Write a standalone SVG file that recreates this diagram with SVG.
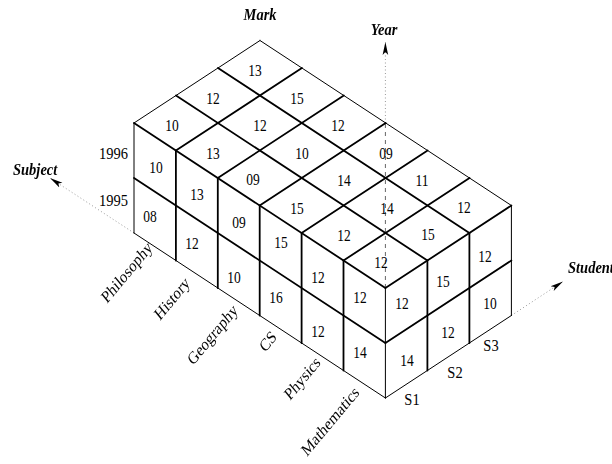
<svg xmlns="http://www.w3.org/2000/svg" width="612" height="464" viewBox="0 0 612 464">
<defs>
<style>
.thin{stroke:#000;stroke-width:1;fill:none;stroke-linecap:round}
.thick{stroke:#000;stroke-width:1.8;fill:none;stroke-linecap:round}
.txt{opacity:0.99}
.v{font-family:"Liberation Serif","Times New Roman",serif;font-size:13.5px;fill:#000;text-anchor:middle}
.lab{font-family:"Liberation Serif","Times New Roman",serif;font-size:14.5px;fill:#000}
.ax{font-family:"Liberation Serif","Times New Roman",serif;font-size:14.5px;font-weight:bold;font-style:italic;fill:#000}
.dot{stroke:#999;stroke-width:1;stroke-dasharray:1 2.5;fill:none}
.dash{stroke:#666;stroke-width:1;stroke-dasharray:4 4;fill:none}
</style>
<marker id="ah" viewBox="0 0 13 8" refX="13" refY="4" markerWidth="13" markerHeight="8" markerUnits="userSpaceOnUse" orient="auto"><path d="M0,1.2 L13,4 L0,6.8 L3,4 z" fill="#000"/></marker>
</defs>
<rect width="612" height="464" fill="#fff"/>

<g id="axes">
<line class="dot" x1="134" y1="233" x2="50" y2="178" marker-end="url(#ah)"/>
<line class="dot" x1="511.4" y1="315.5" x2="563" y2="281.5" marker-end="url(#ah)"/>
<line class="dash" x1="385.4" y1="288" x2="385.4" y2="123"/>
<line class="dot" x1="385.4" y1="123" x2="385.4" y2="42" marker-end="url(#ah)"/>
</g>

<g id="cube">
<line class="thick" x1="134" y1="123" x2="385.4" y2="288"/>
<line class="thick" x1="176" y1="95.5" x2="427.4" y2="260.5"/>
<line class="thick" x1="218" y1="68" x2="469.4" y2="233"/>
<line class="thin" x1="260" y1="40.5" x2="511.4" y2="205.5"/>
<line class="thin" x1="134" y1="123" x2="260" y2="40.5"/>
<line class="thick" x1="175.9" y1="150.5" x2="301.9" y2="68"/>
<line class="thick" x1="217.8" y1="178" x2="343.8" y2="95.5"/>
<line class="thick" x1="259.7" y1="205.5" x2="385.7" y2="123"/>
<line class="thick" x1="301.6" y1="233" x2="427.6" y2="150.5"/>
<line class="thick" x1="343.5" y1="260.5" x2="469.5" y2="178"/>
<line class="thick" x1="385.4" y1="288" x2="511.4" y2="205.5"/>
<line class="thin" x1="134" y1="123" x2="134" y2="233"/>
<line class="thick" x1="175.9" y1="150.5" x2="175.9" y2="260.5"/>
<line class="thick" x1="217.8" y1="178" x2="217.8" y2="288"/>
<line class="thick" x1="259.7" y1="205.5" x2="259.7" y2="315.5"/>
<line class="thick" x1="301.6" y1="233" x2="301.6" y2="343"/>
<line class="thick" x1="343.5" y1="260.5" x2="343.5" y2="370.5"/>
<line class="thin" x1="385.4" y1="288" x2="385.4" y2="398"/>
<line class="thick" x1="134" y1="178" x2="385.4" y2="343"/>
<line class="thin" x1="134" y1="233" x2="385.4" y2="398"/>
<line class="thick" x1="427.4" y1="260.5" x2="427.4" y2="370.5"/>
<line class="thick" x1="469.4" y1="233" x2="469.4" y2="343"/>
<line class="thin" x1="511.4" y1="205.5" x2="511.4" y2="315.5"/>
<line class="thick" x1="385.4" y1="343" x2="511.4" y2="260.5"/>
<line class="thin" x1="385.4" y1="398" x2="511.4" y2="315.5"/>
</g>

<g id="values-top" class="txt">
<text class="v" transform="matrix(1,0,0,1.2,172,130.5)">10</text>
<text class="v" transform="matrix(1,0,0,1.2,213,103.5)">12</text>
<text class="v" transform="matrix(1,0,0,1.2,255,75.5)">13</text>
<text class="v" transform="matrix(1,0,0,1.2,213,158.5)">13</text>
<text class="v" transform="matrix(1,0,0,1.2,260,130.5)">12</text>
<text class="v" transform="matrix(1,0,0,1.2,297,103.5)">15</text>
<text class="v" transform="matrix(1,0,0,1.2,253,184.5)">09</text>
<text class="v" transform="matrix(1,0,0,1.2,302,158.5)">10</text>
<text class="v" transform="matrix(1,0,0,1.2,338,130.5)">12</text>
<text class="v" transform="matrix(1,0,0,1.2,297,213.5)">15</text>
<text class="v" transform="matrix(1,0,0,1.2,344,185.5)">14</text>
<text class="v" transform="matrix(1,0,0,1.2,386,158.5)">09</text>
<text class="v" transform="matrix(1,0,0,1.2,344,240.5)">12</text>
<text class="v" transform="matrix(1,0,0,1.2,387,213.5)">14</text>
<text class="v" transform="matrix(1,0,0,1.2,422,185.5)">11</text>
<text class="v" transform="matrix(1,0,0,1.2,381,267.5)">12</text>
<text class="v" transform="matrix(1,0,0,1.2,428,239.5)">15</text>
<text class="v" transform="matrix(1,0,0,1.2,464,212.5)">12</text>
</g>

<g id="values-left" class="txt">
<text class="v" transform="matrix(1,0,0,1.2,156,172.5)">10</text>
<text class="v" transform="matrix(1,0,0,1.2,150,221.5)">08</text>
<text class="v" transform="matrix(1,0,0,1.2,197,199.5)">13</text>
<text class="v" transform="matrix(1,0,0,1.2,192,248.5)">12</text>
<text class="v" transform="matrix(1,0,0,1.2,239,227.5)">09</text>
<text class="v" transform="matrix(1,0,0,1.2,234,282.5)">10</text>
<text class="v" transform="matrix(1,0,0,1.2,281,247.5)">15</text>
<text class="v" transform="matrix(1,0,0,1.2,276,302.5)">16</text>
<text class="v" transform="matrix(1,0,0,1.2,318,282.5)">12</text>
<text class="v" transform="matrix(1,0,0,1.2,318,336.5)">12</text>
<text class="v" transform="matrix(1,0,0,1.2,360,302.5)">12</text>
<text class="v" transform="matrix(1,0,0,1.2,360,357.5)">14</text>
</g>

<g id="values-right" class="txt">
<text class="v" transform="matrix(1,0,0,1.2,402,308.5)">12</text>
<text class="v" transform="matrix(1,0,0,1.2,407,365.5)">14</text>
<text class="v" transform="matrix(1,0,0,1.2,443,287)">15</text>
<text class="v" transform="matrix(1,0,0,1.2,448,337.5)">12</text>
<text class="v" transform="matrix(1,0,0,1.2,485,261.5)">12</text>
<text class="v" transform="matrix(1,0,0,1.2,490,308.5)">10</text>
</g>

<g id="year-labels" class="txt">
<text class="lab" text-anchor="end" transform="matrix(1,0,0,1.2,128,159)">1996</text>
<text class="lab" text-anchor="end" transform="matrix(1,0,0,1.2,128,206)">1995</text>
</g>

<g id="student-labels" class="txt">
<text class="lab" text-anchor="middle" transform="matrix(1,0,0,1.2,412,405)">S1</text>
<text class="lab" text-anchor="middle" transform="matrix(1,0,0,1.2,455,378)">S2</text>
<text class="lab" text-anchor="middle" transform="matrix(1,0,0,1.2,491,351)">S3</text>
</g>

<g id="subject-labels" class="txt">
<text class="lab" transform="matrix(0.707,-0.849,0.707,0.849,107,304)">Philosophy</text>
<text class="lab" transform="matrix(0.707,-0.849,0.707,0.849,160,321)">History</text>
<text class="lab" transform="matrix(0.707,-0.849,0.707,0.849,193,366)">Geography</text>
<text class="lab" transform="matrix(0.707,-0.849,0.707,0.849,265,353)">CS</text>
<text class="lab" transform="matrix(0.707,-0.849,0.707,0.849,290,401)">Physics</text>
<text class="lab" transform="matrix(0.707,-0.849,0.707,0.849,307,457)">Mathematics</text>
</g>

<g id="axis-labels" class="txt">
<text class="ax" text-anchor="middle" transform="matrix(1,0,0,1.2,260,20)">Mark</text>
<text class="ax" text-anchor="middle" transform="matrix(1,0,0,1.2,384,35)">Year</text>
<text class="ax" transform="matrix(1,0,0,1.2,13,175)">Subject</text>
<text class="ax" transform="matrix(1,0,0,1.2,568,273)">Student</text>
</g>
</svg>
